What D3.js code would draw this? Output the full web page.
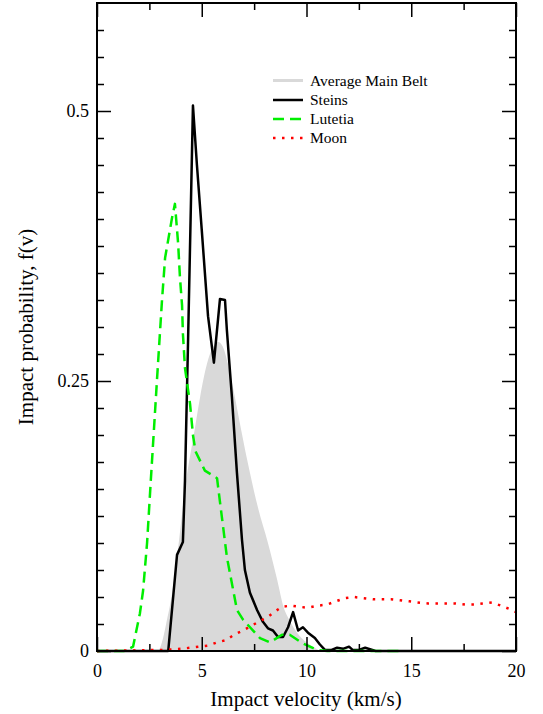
<!DOCTYPE html>
<html>
<head>
<meta charset="utf-8">
<script src="https://cdn.jsdelivr.net/npm/d3@7"></script>
<style>
  body { margin: 0; background: #fff; }
  svg text { font-family: "Liberation Serif", "Times New Roman", serif; fill: #000; }
</style>
</head>
<body>
<svg width="543" height="714"></svg>
<script>
// velocity (km/s), impact probability f(v)
const mainBelt = [
  [0, 0], [2.9, 0], [3.1, 0.008], [3.3, 0.025], [3.6, 0.055], [3.9, 0.1], [4.2, 0.15],
  [4.68, 0.207], [4.92, 0.235], [5.25, 0.266], [5.5, 0.28], [5.78, 0.286], [6.0, 0.282],
  [6.25, 0.266], [6.5, 0.243], [6.73, 0.22], [7.2, 0.174], [7.68, 0.133], [8.16, 0.1],
  [8.6, 0.066], [8.9, 0.041], [9.2, 0.028], [9.55, 0.017], [10.0, 0.008], [10.3, 0.004],
  [10.8, 0], [20, 0]
];
const steins = [
  [0, 0], [3.4, 0], [3.82, 0.089], [4.1, 0.101], [4.2, 0.158], [4.35, 0.29], [4.58, 0.505],
  [4.77, 0.45], [5.0, 0.39], [5.3, 0.31], [5.58, 0.267], [5.87, 0.326], [6.11, 0.325],
  [6.2, 0.297], [6.44, 0.235], [6.68, 0.165], [6.92, 0.103], [7.06, 0.075], [7.3, 0.054],
  [7.64, 0.038], [7.92, 0.027], [8.16, 0.021], [8.4, 0.019], [8.64, 0.013], [8.88, 0.013],
  [9.12, 0.022], [9.36, 0.036], [9.6, 0.019], [9.83, 0.022], [10.07, 0.017], [10.4, 0.012],
  [10.64, 0.006], [10.88, 0.001], [11.2, 0.001], [11.46, 0.003], [11.74, 0.002], [12.03, 0.004],
  [12.2, 0.001], [12.5, 0.001], [12.8, 0.003], [13.3, 0], [20, 0]
];
const lutetia = [
  [0, 0], [1.3, 0], [1.72, 0.004], [2.05, 0.035], [2.2, 0.056], [2.39, 0.1], [2.55, 0.152],
  [2.86, 0.25], [3.1, 0.324], [3.25, 0.364], [3.58, 0.401], [3.72, 0.414], [3.87, 0.378],
  [3.96, 0.346], [4.06, 0.32], [4.1, 0.294], [4.2, 0.262], [4.44, 0.229], [4.58, 0.2],
  [4.7, 0.185], [5.15, 0.167], [5.49, 0.163], [5.73, 0.16], [5.78, 0.152], [6.2, 0.087],
  [6.68, 0.038], [6.97, 0.029], [7.78, 0.012], [8.26, 0.008], [8.83, 0.015], [9.2, 0.015],
  [9.83, 0.007], [10.5, 0.001], [11, 0], [14.5, 0]
];
const moon = [
  [0, 0], [3.1, 0.001], [4.0, 0.002], [4.44, 0.003], [4.87, 0.004], [5.3, 0.005], [5.73, 0.008],
  [6.16, 0.01], [6.54, 0.015], [6.97, 0.019], [7.35, 0.023], [7.7, 0.027], [8.11, 0.031],
  [8.45, 0.036], [8.83, 0.041], [9.26, 0.042], [9.64, 0.041], [10.07, 0.04], [10.55, 0.042],
  [10.98, 0.043], [11.4, 0.046], [11.84, 0.049], [12.27, 0.05], [12.7, 0.049], [13.17, 0.048],
  [13.6, 0.048], [14.03, 0.048], [14.46, 0.047], [14.9, 0.046], [15.3, 0.045], [15.8, 0.044],
  [16.2, 0.044], [16.66, 0.044], [17.1, 0.044], [17.57, 0.043], [18.0, 0.043], [18.4, 0.044],
  [18.85, 0.045], [19.28, 0.042], [19.67, 0.039], [20, 0.036]
];

const xMajor = [0, 5, 10, 15, 20];
const xMinor = [2.5, 7.5, 12.5, 17.5];
const yMajor = [0, 0.25, 0.5];
const yMinor = d3.range(1, 24).map(i => i * 0.025).filter(v => Math.abs(v - 0.25) > 1e-6 && Math.abs(v - 0.5) > 1e-6);

const legendNames = ["Average Main Belt", "Steins", "Lutetia", "Moon"];

const serif = '"Liberation Serif", "Times New Roman", serif';
const svg = d3.select("svg");
const x = d3.scaleLinear().domain([0, 20]).range([97, 516]);
const y = d3.scaleLinear().domain([0, 0.6]).range([651, 3]);

const line = d3.line().x(d => x(d[0])).y(d => y(d[1]));
const area = d3.area().x(d => x(d[0])).y0(y(0)).y1(d => y(d[1])).curve(d3.curveMonotoneX);

const plot = svg.append("g");
plot.append("path").datum(mainBelt).attr("d", area).attr("fill", "#d9d9d9");

const styles = [
  { stroke: "#d9d9d9", width: 3, dash: null },
  { stroke: "#000", width: 2.5, dash: null },
  { stroke: "#00ee00", width: 2.5, dash: "11,6" },
  { stroke: "#ff0000", width: 2.5, dash: "2.5,6.5" }
];

[steins, lutetia, moon].forEach((s, i) => {
  const st = styles[i + 1];
  plot.append("path").datum(s).attr("d", line)
    .attr("fill", "none")
    .attr("stroke", st.stroke)
    .attr("stroke-width", st.width)
    .attr("stroke-dasharray", st.dash)
    .attr("stroke-linejoin", "round");
});

// axes, ticks pointing inward
function axisGroup(axis, tx, ty) {
  const g = svg.append("g").attr("transform", `translate(${tx},${ty})`).call(axis);
  g.attr("font-family", null).attr("font-size", null);
  g.select(".domain").remove();
  g.selectAll("line").attr("stroke-width", 1.5);
  g.selectAll("text").style("font-family", serif).style("font-size", "18px");
  return g;
}
const fmt = d => (d === 0 ? "0" : String(d));

axisGroup(d3.axisBottom(x).tickValues(xMajor).tickSize(-14).tickPadding(13).tickFormat(fmt), 0, 651);
axisGroup(d3.axisBottom(x).tickValues(xMinor).tickSize(-7).tickFormat(""), 0, 651);
axisGroup(d3.axisTop(x).tickValues(xMajor).tickSize(-14).tickFormat(""), 0, 3);
axisGroup(d3.axisTop(x).tickValues(xMinor).tickSize(-7).tickFormat(""), 0, 3);
axisGroup(d3.axisLeft(y).tickValues(yMajor).tickSize(-14).tickPadding(8).tickFormat(fmt), 97, 0);
axisGroup(d3.axisLeft(y).tickValues(yMinor).tickSize(-7).tickFormat(""), 97, 0);
axisGroup(d3.axisRight(y).tickValues(yMajor).tickSize(-14).tickFormat(""), 516, 0);
axisGroup(d3.axisRight(y).tickValues(yMinor).tickSize(-7).tickFormat(""), 516, 0);

svg.append("rect")
  .attr("x", 97).attr("y", 3).attr("width", 516 - 97).attr("height", 651 - 3)
  .attr("fill", "none").attr("stroke", "#000").attr("stroke-width", 2);

// titles
svg.append("text")
  .attr("x", 306).attr("y", 706)
  .attr("text-anchor", "middle")
  .style("font-family", serif).style("font-size", "21px")
  .text("Impact velocity (km/s)");
svg.append("text")
  .attr("transform", "translate(33,327) rotate(-90)")
  .attr("text-anchor", "middle")
  .style("font-family", serif).style("font-size", "21px")
  .text("Impact probability, f(v)");

// legend
const legY = [80.5, 100, 119, 138];
const leg = svg.append("g");
legendNames.forEach((name, i) => {
  const st = styles[i];
  leg.append("line")
    .attr("x1", 273).attr("x2", 303).attr("y1", legY[i]).attr("y2", legY[i])
    .attr("stroke", st.stroke).attr("stroke-width", st.width)
    .attr("stroke-dasharray", st.dash);
  leg.append("text")
    .attr("x", 310).attr("y", legY[i] + 5)
    .style("font-family", serif).style("font-size", "15.5px")
    .text(name);
});
</script>
</body>
</html>
